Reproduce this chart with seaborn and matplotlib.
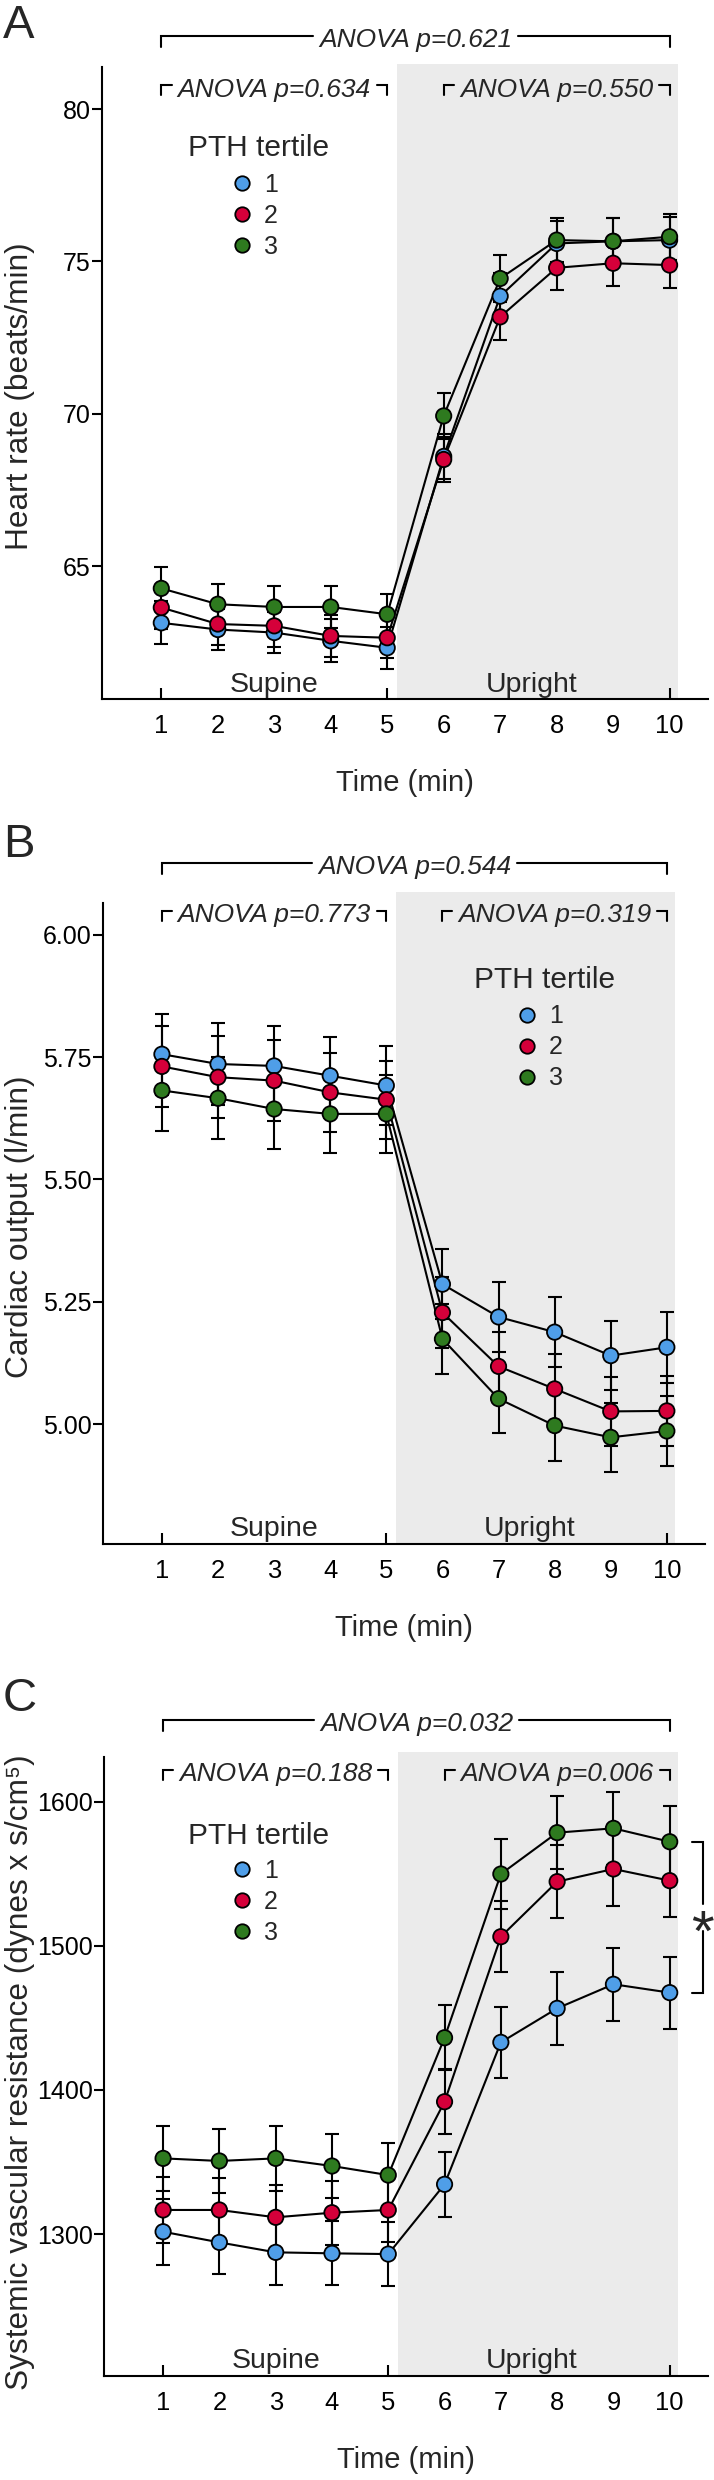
import pandas as pd
import seaborn as sns
import matplotlib.pyplot as plt
from matplotlib.lines import Line2D

sns.set_style("ticks", {"axes.edgecolor": "black", "xtick.color": "black", "ytick.color": "black"})
plt.rcParams['font.family'] = ['Liberation Sans', 'DejaVu Sans']

# ==============================
# DATA
# ==============================
time = [1, 2, 3, 4, 5, 6, 7, 8, 9, 10]
tertiles = ["1", "2", "3"]
colors = ["#4f9ee8", "#d5003a", "#2e7a1f"]

# A: heart rate (beats/min)
hr_t1 = [63.14, 62.92, 62.82, 62.55, 62.32, 68.60, 73.86, 75.59, 75.66, 75.70]
hr_t2 = [63.64, 63.10, 63.04, 62.71, 62.65, 68.50, 73.18, 74.79, 74.94, 74.88]
hr_t3 = [64.27, 63.75, 63.66, 63.66, 63.42, 69.93, 74.44, 75.70, 75.66, 75.81]
hr_se = [0.70, 0.68, 0.68, 0.70, 0.68, 0.75, 0.77, 0.72, 0.75, 0.75]

# B: cardiac output (l/min)
co_t1 = [5.756, 5.736, 5.732, 5.712, 5.692, 5.286, 5.219, 5.188, 5.140, 5.157]
co_t2 = [5.731, 5.709, 5.702, 5.678, 5.663, 5.228, 5.118, 5.072, 5.026, 5.027]
co_t3 = [5.682, 5.666, 5.644, 5.634, 5.634, 5.174, 5.052, 4.997, 4.973, 4.986]
co_se = [0.083, 0.084, 0.082, 0.080, 0.080, 0.072, 0.071, 0.072, 0.071, 0.072]

# C: systemic vascular resistance
svr_t1 = [1301.6, 1294.2, 1287.3, 1286.6, 1286.1, 1334.5, 1433.0, 1456.6, 1473.3, 1467.5]
svr_t2 = [1316.7, 1316.7, 1311.6, 1314.8, 1316.7, 1391.8, 1506.3, 1544.5, 1553.3, 1545.2]
svr_t3 = [1352.5, 1350.7, 1352.5, 1347.2, 1340.9, 1436.2, 1549.8, 1578.5, 1581.5, 1572.2]
svr_se = [22.8, 22.2, 22.5, 22.3, 22.4, 22.6, 24.5, 25.5, 25.5, 25.0]

anova_a = ["0.621", "0.634", "0.550"]
anova_b = ["0.544", "0.773", "0.319"]
anova_c = ["0.032", "0.188", "0.006"]


def long_df(series, se):
    parts = []
    for lab, vals in zip(tertiles, series):
        parts.append(pd.DataFrame({"time": time, "value": vals, "se": se, "tertile": lab}))
    return pd.concat(parts, ignore_index=True)


# ==============================
# LAYOUT (pixel positions)
# ==============================
W, H = 714, 2480
fig = plt.figure(figsize=(W / 100, H / 100), dpi=100)
renderer = fig.canvas.get_renderer()

panels = [
    dict(letter="A", letter_base=38.3, box=(102, 66.7, 708, 699.3),
         df=long_df([hr_t1, hr_t2, hr_t3], hr_se), ylim=(60.63, 81.39),
         yticks=[65, 70, 75, 80], fmt="{:.0f}", ylabel="Heart rate (beats/min)", ylab_y=396,
         p=anova_a, top_px=36, sub_px=85, shade_px=64.3,
         title=(259, 156), leg=(242, 216), star=False),
    dict(letter="B", letter_base=857, box=(103, 903, 705, 1544),
         df=long_df([co_t1, co_t2, co_t3], co_se), ylim=(4.755, 6.065),
         yticks=[5.00, 5.25, 5.50, 5.75, 6.00], fmt="{:.2f}", ylabel="Cardiac output (l/min)", ylab_y=1227,
         p=anova_b, top_px=862.7, sub_px=910.7, shade_px=891.7,
         title=(545, 988), leg=(527, 1047.5), star=False),
    dict(letter="C", letter_base=1711, box=(104, 1756.7, 708, 2376),
         df=long_df([svr_t1, svr_t2, svr_t3], svr_se), ylim=(1201.5, 1631.2),
         yticks=[1300, 1400, 1500, 1600], fmt="{:.0f}",
         ylabel="Systemic vascular resistance (dynes x s/cm\u2075)", ylab_y=2072,
         p=anova_c, top_px=1720, sub_px=1770, shade_px=1751.7,
         title=(259, 1844), leg=(242, 1902), star=True),
]


def bracket(ax, fy, x0, x1, line_px, label, tick_px):
    tr = ax.get_xaxis_transform()
    txt = ax.text((x0 + x1) / 2, fy(line_px + 11.5), label, transform=tr, ha="center",
                  va="baseline", fontsize=19, style="italic", clip_on=False)
    bb = txt.get_window_extent(renderer)
    inv = ax.transData.inverted()
    tx0 = inv.transform((bb.x0 - 6, 0))[0]
    tx1 = inv.transform((bb.x1 + 6, 0))[0]
    yl, yt = fy(line_px), fy(line_px + tick_px)
    kw = dict(transform=tr, color="black", lw=1.5, clip_on=False, solid_joinstyle="miter")
    ax.plot([x0, x0, tx0], [yt, yl, yl], **kw)
    ax.plot([tx1, x1, x1], [yl, yl, yt], **kw)


for P in panels:
    l, t, r, b = P["box"]
    hpx = b - t
    ax = fig.add_axes([l / W, 1 - b / H, (r - l) / W, hpx / H])

    def fy(ypx, b=b, hpx=hpx):
        return (b - ypx) / hpx

    def fx(xpx, l=l, r=r):
        return (xpx - l) / (r - l)

    d = P["df"]
    ax.axvspan(5.17, 10.15, ymin=0, ymax=fy(P["shade_px"]), color="#ebebeb", lw=0,
               zorder=0, clip_on=False)
    for lab in tertiles:
        s = d[d.tertile == lab]
        ax.errorbar(s.time, s.value, yerr=s.se, fmt="none", ecolor="black",
                    elinewidth=1.5, capsize=5, capthick=1.5, zorder=2)
    sns.lineplot(data=d, x="time", y="value", units="tertile", estimator=None,
                 color="black", lw=1.5, ax=ax, zorder=3, legend=False)
    sns.scatterplot(data=d, x="time", y="value", hue="tertile", palette=colors, s=122,
                    edgecolor="black", linewidth=1.3, ax=ax, zorder=4, legend=False)

    ax.set_xlim(-0.05, 10.68)
    ax.set_ylim(*P["ylim"])
    sns.despine(ax=ax)
    for sp in ("left", "bottom"):
        ax.spines[sp].set_linewidth(1.5)

    ax.set_xticks(time)
    ax.set_yticks(P["yticks"])
    ax.set_yticklabels([P["fmt"].format(v) for v in P["yticks"]])
    ax.tick_params(axis="x", direction="in", length=8, width=1.5, pad=10.8, labelsize=18.4)
    ax.tick_params(axis="y", direction="out", length=7.5, width=1.5, pad=0.5, labelsize=18)
    for tk, tv in zip(ax.xaxis.get_major_ticks(), time):
        tk.tick1line.set_visible(tv in (1, 5, 10))

    ax.set_xlabel("Time (min)", fontsize=21)
    ax.xaxis.label.set_va("baseline")
    ax.xaxis.set_label_coords(0.5, fy(b + 92))
    ax.set_ylabel(P["ylabel"], fontsize=22.8)
    ax.yaxis.set_label_coords(fx(35), fy(P["ylab_y"]))

    xt = ax.get_xaxis_transform()
    ax.text(3, fy(b - 7.5), "Supine", transform=xt, ha="center", va="baseline", fontsize=20.5)
    ax.text(7.55, fy(b - 7.5), "Upright", transform=xt, ha="center", va="baseline", fontsize=20.5)

    # legend: title as text, entries as a legend block
    ax.text(fx(P["title"][0]), fy(P["title"][1]), "PTH tertile", transform=ax.transAxes,
            ha="center", va="baseline", fontsize=21.5)
    handles = [Line2D([], [], ls="", marker="o", ms=10.4, mfc=c, mec="black", mew=1.3)
               for c in colors]
    ax.legend(handles, tertiles, loc="center left",
              bbox_to_anchor=(fx(P["leg"][0] - 12.5), fy(P["leg"][1])),
              frameon=False, fontsize=18, borderpad=0, labelspacing=0.28,
              handletextpad=0.38, handlelength=1.0, borderaxespad=0)

    bracket(ax, fy, 1, 10, P["top_px"], "ANOVA p=" + P["p"][0], 11)
    bracket(ax, fy, 1, 5, P["sub_px"], "ANOVA p=" + P["p"][1], 10)
    bracket(ax, fy, 6, 10, P["sub_px"], "ANOVA p=" + P["p"][2], 10)

    if P["star"]:
        g_end = d[(d.tertile == "3")].value.iloc[-1]
        b_end = d[(d.tertile == "1")].value.iloc[-1]
        xs, xtk = 10.586, 10.39
        mid = (g_end + b_end) / 2
        gap = 13.5 * (P["ylim"][1] - P["ylim"][0]) / hpx
        kw = dict(color="black", lw=1.5, clip_on=False, solid_joinstyle="miter")
        ax.plot([xtk, xs, xs], [g_end, g_end, mid + gap], **kw)
        ax.plot([xs, xs, xtk], [mid - gap, b_end, b_end], **kw)
        ax.annotate("*", xy=(xs, mid), xytext=(0, -0.57 * 42), textcoords="offset points",
                    ha="center", va="baseline", fontsize=42, annotation_clip=False)

    fig.text(3 / W, 1 - P["letter_base"] / H, P["letter"], fontsize=34, ha="left", va="baseline")

fig.savefig("out.png", dpi=100)
